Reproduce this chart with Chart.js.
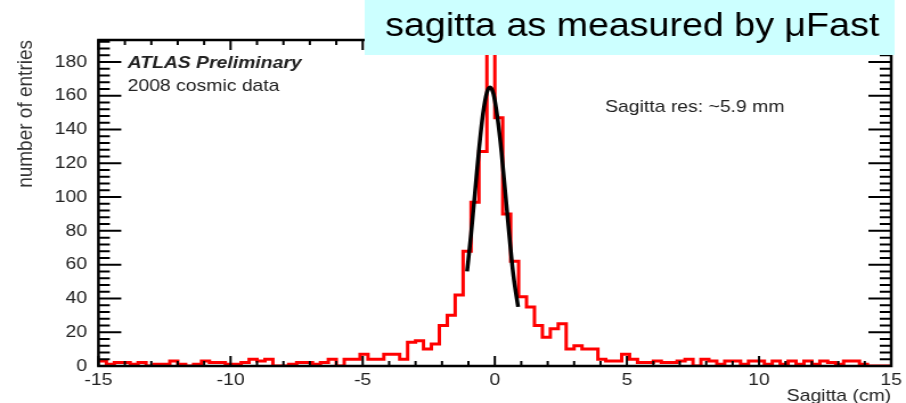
<!DOCTYPE html>
<html>
<head>
<meta charset="utf-8">
<script src="https://cdn.jsdelivr.net/npm/chart.js@4.4.1/dist/chart.umd.min.js"></script>
<style>
    html, body { margin: 0; padding: 0; background: #fff; overflow: hidden; }
    /* o gráfico original é esticado na horizontal */
    #quadro { width: 795px; height: 403px; transform: scaleX(1.1396); transform-origin: 0 0; }
</style>
</head>
<body>
<div id="quadro"><canvas id="graficoSagitta" width="795" height="403"></canvas></div>
<script>
// Histograma da sagitta: 100 bins de 0.3 cm entre -15 e 15
const inicioBins = -15;
const larguraBin = 0.3;
const contagens = [
    3, 1, 2, 2, 1, 2, 0, 1, 1, 3,
    1, 0, 1, 3, 2, 2, 1, 1, 2, 4,
    3, 4, 0, 0, 1, 2, 2, 1, 2, 4,
    0, 4, 4, 7, 4, 4, 7, 7, 4, 14,
    15, 10, 13, 24, 30, 42, 68, 97, 127, 185,
    147, 90, 62, 41, 35, 24, 17, 22, 25, 10,
    12, 10, 10, 4, 3, 3, 7, 4, 2, 2,
    3, 2, 2, 3, 4, 0, 4, 3, 1, 3,
    3, 1, 3, 3, 1, 3, 1, 3, 1, 3,
    1, 3, 2, 1, 3, 3, 1, 0, 0, 0
];

// Ajuste gaussiano (curva preta)
const ajusteX = [-1.05, -0.9, -0.75, -0.6, -0.45, -0.3, -0.18, -0.05, 0.1, 0.25, 0.4, 0.55, 0.7, 0.88];
const ajusteY = [56, 78, 103, 128, 149, 162, 165, 161, 147, 127, 102, 77, 54, 35];

// Marcas dos eixos
const ticksX = [-15, -10, -5, 0, 5, 10, 15];
const ticksY = [0, 20, 40, 60, 80, 100, 120, 140, 160, 180];
const minX = -15;
const maxX = 15;
const maxY = 193;
const passoMenorX = 1;
const passoMenorY = 4;

const fonte = '"Liberation Sans", Arial, Helvetica, sans-serif';
const corTexto = '#222';

// Pontos do histograma (degraus)
const pontosHist = contagens.map((c, i) => ({ x: inicioBins + i * larguraBin, y: c }));
pontosHist.push({ x: inicioBins + contagens.length * larguraBin, y: contagens[contagens.length - 1] });

const pontosAjuste = ajusteX.map((x, i) => ({ x: x, y: ajusteY[i] }));

// Moldura com marcas para dentro, nos quatro lados
const moldura = {
    id: 'moldura',
    afterDatasetsDraw(chart) {
        const { ctx, chartArea: a, scales: { x, y } } = chart;
        ctx.save();
        ctx.strokeStyle = '#000';
        ctx.lineWidth = 2;
        ctx.beginPath();
        for (let v = minX; v <= maxX; v += passoMenorX) {
            const px = x.getPixelForValue(v);
            const len = ticksX.includes(v) ? 10 : 5;
            ctx.moveTo(px, a.bottom);
            ctx.lineTo(px, a.bottom - len);
            ctx.moveTo(px, a.top);
            ctx.lineTo(px, a.top + len);
        }
        for (let v = 0; v <= maxY; v += passoMenorY) {
            const py = y.getPixelForValue(v);
            const len = ticksY.includes(v) ? 20 : 10;
            ctx.moveTo(a.left, py);
            ctx.lineTo(a.left + len, py);
            ctx.moveTo(a.right, py);
            ctx.lineTo(a.right - len, py);
        }
        ctx.stroke();
        ctx.lineWidth = 2.5;
        ctx.strokeRect(a.left, a.top, a.right - a.left, a.bottom - a.top);
        ctx.restore();
    }
};

// Textos dentro do gráfico e a caixa do título
const textos = {
    id: 'textos',
    afterDraw(chart) {
        const ctx = chart.ctx;
        ctx.save();
        ctx.fillStyle = corTexto;
        ctx.textBaseline = 'alphabetic';
        ctx.textAlign = 'left';
        ctx.font = 'italic bold 17px ' + fonte;
        ctx.fillText('ATLAS Preliminary', 112, 68);
        ctx.font = '17px ' + fonte;
        ctx.fillText('2008 cosmic data', 112, 91);
        ctx.fillText('Sagitta res: ~5.9 mm', 531, 112);

        ctx.fillStyle = '#ccffff';
        ctx.fillRect(320, 0, 465, 55);
        ctx.fillStyle = '#000';
        ctx.font = '33px ' + fonte;
        ctx.fillText('sagitta as measured by \u03bcFast', 338, 36);
        ctx.restore();
    }
};

new Chart(document.getElementById('graficoSagitta'), {
    type: 'line',
    data: {
        datasets: [
            {
                label: 'ajuste',
                data: pontosAjuste,
                borderColor: '#000',
                borderWidth: 3.5,
                pointRadius: 0,
                cubicInterpolationMode: 'monotone',
                order: 0
            },
            {
                label: 'sagitta',
                data: pontosHist,
                borderColor: '#ff0000',
                borderWidth: 3,
                pointRadius: 0,
                stepped: 'before',
                order: 1
            }
        ]
    },
    options: {
        responsive: false,
        animation: false,
        devicePixelRatio: 1,
        layout: { padding: { left: 0, right: 13, top: 40, bottom: 0 } },
        plugins: {
            legend: { display: false },
            tooltip: { enabled: false }
        },
        scales: {
            x: {
                type: 'linear',
                min: minX,
                max: maxX,
                grid: { display: false },
                border: { display: false },
                afterBuildTicks: s => { s.ticks = ticksX.map(v => ({ value: v })); },
                afterFit: s => { s.height = 37; },
                ticks: {
                    autoSkip: false,
                    maxRotation: 0,
                    padding: -4,
                    color: corTexto,
                    font: { family: fonte, size: 17 }
                },
                title: {
                    display: true,
                    text: 'Sagitta (cm)',
                    align: 'end',
                    color: corTexto,
                    padding: 0,
                    font: { family: fonte, size: 17, lineHeight: 0.8 }
                }
            },
            y: {
                min: 0,
                max: maxY,
                grid: { display: false },
                border: { display: false },
                afterBuildTicks: s => { s.ticks = ticksY.map(v => ({ value: v })); },
                afterFit: s => { s.width = 86.4; },
                ticks: {
                    padding: 2,
                    color: corTexto,
                    font: { family: fonte, size: 17 }
                },
                title: {
                    display: true,
                    text: 'number of entries',
                    align: 'end',
                    color: '#333',
                    padding: { top: 11, bottom: 0 },
                    font: { family: fonte, size: 19 }
                }
            }
        }
    },
    plugins: [moldura, textos]
});
</script>
</body>
</html>
